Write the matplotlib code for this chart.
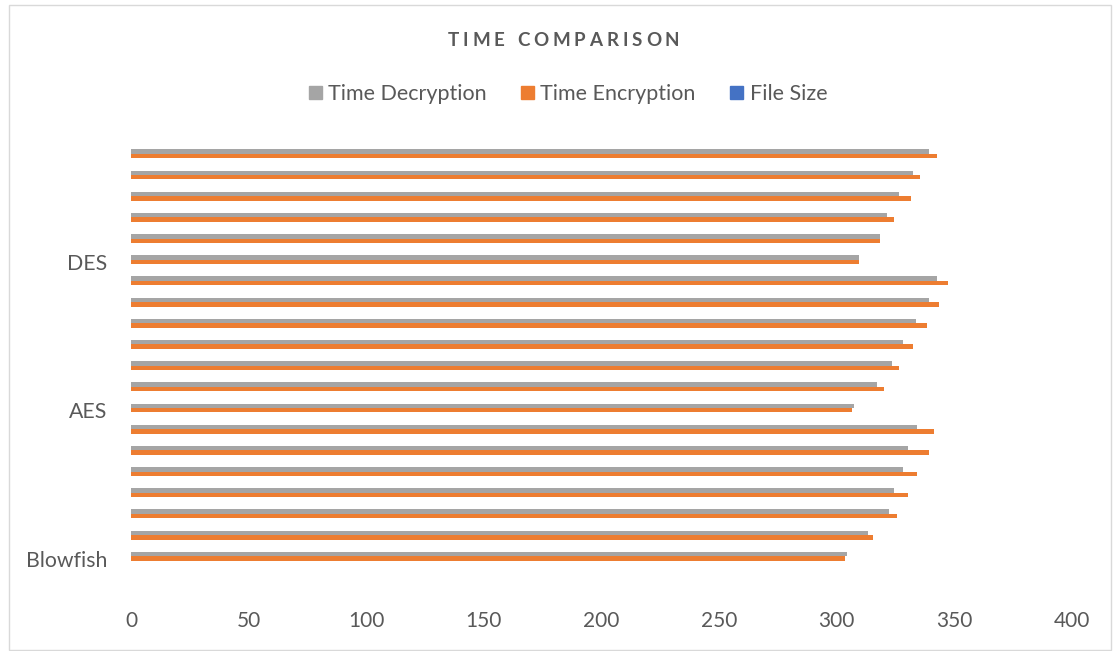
import matplotlib
matplotlib.use("Agg")
import matplotlib.pyplot as plt
from matplotlib.patches import Rectangle, Patch
import numpy as np

# ---- data -------------------------------------------------------------
algorithms = ["Blowfish"] * 7 + ["AES"] * 7 + ["DES"] * 6
file_size = [0] * 20
time_encryption = [303.5, 315.4, 325.5, 330.4, 334.2, 339.3, 341.5,
                   306.4, 320.2, 326.5, 332.3, 338.5, 343.5, 347.4,
                   309.6, 318.4, 324.5, 331.4, 335.4, 342.5]
time_decryption = [304.4, 313.4, 322.3, 324.3, 328.3, 330.4, 334.2,
                   307.3, 317.2, 323.5, 328.3, 333.6, 339.3, 342.5,
                   309.5, 318.4, 321.5, 326.6, 332.5, 339.3]
x_ticks = [0, 50, 100, 150, 200, 250, 300, 350, 400]
label_every = 7

# ---- style ------------------------------------------------------------
FONT = ["Lato", "DejaVu Sans"]
TEXT_COLOR = "#595959"
C_FILE = "#4472C4"
C_ENC = "#ED7D31"
C_DEC = "#A5A5A5"

W, H = 1113, 651
fig = plt.figure(figsize=(W / 100, H / 100), dpi=100)
fig.patch.set_facecolor("white")

# chart border
fig.patches.append(Rectangle((9 / W, 1 - 650 / H), (1111 - 9) / W, (650 - 5) / H,
                             transform=fig.transFigure, fill=False,
                             edgecolor="#D9D9D9", linewidth=1.0))

ax = fig.add_axes([131 / W, 1 - 569.1 / H, (1072 - 131) / W, (569.1 - 145.4) / H])

y = np.arange(len(algorithms))
bh = 0.21
ax.barh(y - bh, file_size, bh, color=C_FILE, label="File Size")
ax.barh(y, time_encryption, bh, color=C_ENC, label="Time Encryption")
ax.barh(y + bh, time_decryption, bh, color=C_DEC, label="Time Decryption")

ax.set_xlim(x_ticks[0], x_ticks[-1])
ax.set_ylim(-0.5, len(algorithms) - 0.5)
ax.set_xticks(x_ticks)
ax.set_xticklabels([str(v) for v in x_ticks])
tick_pos = list(range(0, len(algorithms), label_every))
ax.set_yticks(tick_pos)
ax.set_yticklabels([algorithms[i] for i in tick_pos])
for s in ax.spines.values():
    s.set_visible(False)
ax.tick_params(axis="y", length=0, pad=17, labelsize=15.3, labelcolor=TEXT_COLOR)
ax.tick_params(axis="x", length=0, pad=30, labelsize=15, labelcolor=TEXT_COLOR)
for lab in ax.get_xticklabels() + ax.get_yticklabels():
    lab.set_family(FONT)

# ---- title with letter spacing -----------------------------------------
renderer = fig.canvas.get_renderer()
title = "TIME COMPARISON"
tkw = dict(fontsize=13.5, fontweight="bold", color=TEXT_COLOR, family=FONT)


def text_width(s):
    t = fig.text(0, 0, s, **tkw)
    w = t.get_window_extent(renderer).width
    t.remove()
    return w


base = text_width("xx")
adv = [text_width("x" + ch + "x") - base for ch in title]
target_width = 232.0
tracking = (target_width - sum(adv)) / (len(title) - 1)
x = 563.5 - target_width / 2
for ch, a in zip(title, adv):
    fig.text(x / W, 1 - 41 / H, ch, ha="left", va="center", **tkw)
    x += a + tracking

# ---- legend -----------------------------------------------------------
handles = [Patch(color=C_DEC, label="Time Decryption"),
           Patch(color=C_ENC, label="Time Encryption"),
           Patch(color=C_FILE, label="File Size")]
fig.legend(handles=handles, loc="center", bbox_to_anchor=(568 / W, 1 - 94 / H),
           ncol=3, frameon=False, prop={"family": FONT, "size": 15.5},
           labelcolor=TEXT_COLOR, handlelength=0.6, handleheight=0.6,
           handletextpad=0.3, columnspacing=1.6)

fig.savefig("out.png", dpi=100)
